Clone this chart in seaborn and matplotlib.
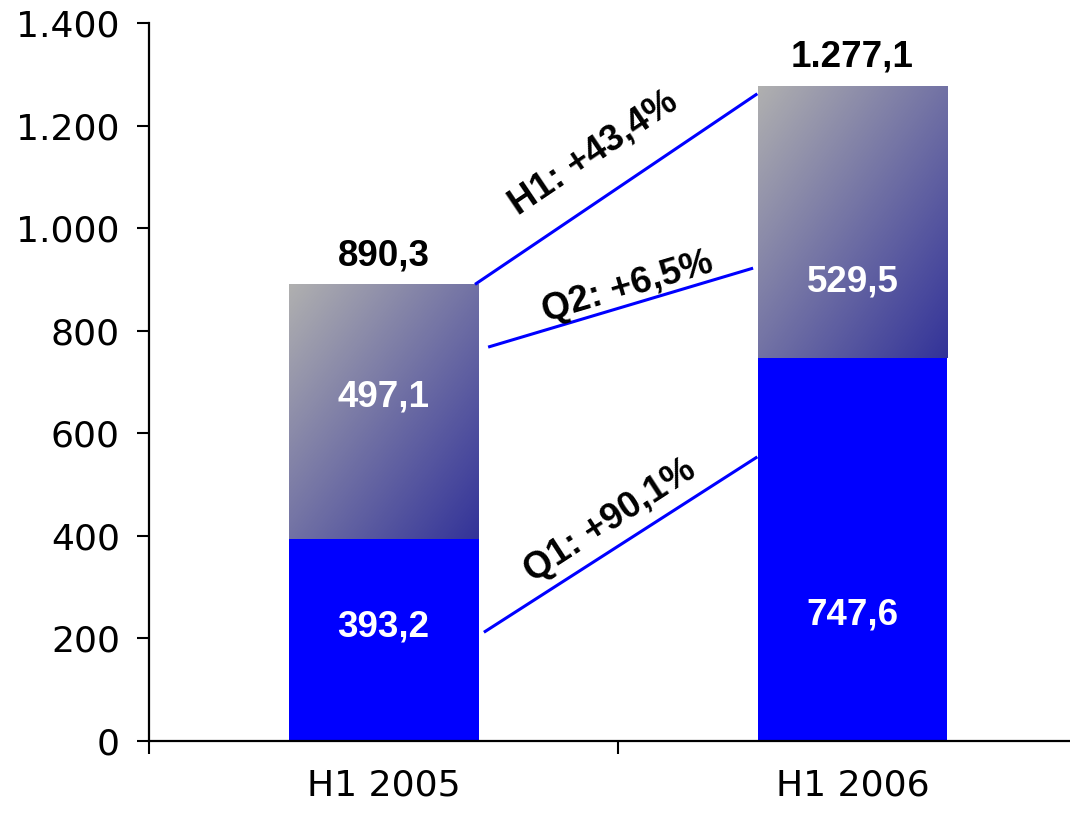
import numpy as np
import pandas as pd
import matplotlib
matplotlib.use("Agg")
import matplotlib.pyplot as plt
import seaborn as sns
from matplotlib.colors import LinearSegmentedColormap

periods = ["H1 2005", "H1 2006"]
q1_values = [393.2, 747.6]
q2_values = [497.1, 529.5]
totals = [890.3, 1277.1]

# where the segment labels sit (data units)
q1_label_y = [222, 246]
q2_label_y = [671, 895]

# growth connectors: label, line ends, text centre, rotation
growth_labels = ["H1: +43,4%", "Q2: +6,5%", "Q1: +90,1%"]
growth_x0 = [0.195, 0.223, 0.214]
growth_y0 = [890.3, 768, 212]
growth_x1 = [0.797, 0.788, 0.797]
growth_y1 = [1262, 922, 554]
growth_tx = [0.448, 0.520, 0.484]
growth_ty = [1147, 885, 429]
growth_rot = [34, 16.5, 33]

y_ticks = [0, 200, 400, 600, 800, 1000, 1200, 1400]

sns.set_style("white")
plt.rcParams["font.family"] = ["DejaVu Sans"]

df = pd.DataFrame({"period": periods, "q1": q1_values, "q2": q2_values, "total": totals})

fig = plt.figure(figsize=(10.7, 8.15), dpi=100)
ax = fig.add_axes([0.1393, 0.0908, 0.8766, 0.881])

BAR_W = 0.405
sns.barplot(data=df, x="period", y="total", color="white", width=BAR_W, ax=ax,
            saturation=1, linewidth=0)
total_patches = list(ax.patches)
sns.barplot(data=df, x="period", y="q1", color="#0000FF", width=BAR_W, ax=ax,
            saturation=1, linewidth=0)

# diagonal grey -> dark blue gradient for the Q2 segment
cmap = LinearSegmentedColormap.from_list("grad", ["#B0B0B0", "#333399"])
u, v = np.meshgrid(np.linspace(0, 1, 200), np.linspace(0, 1, 200))
grad = (u + v) / 2  # top-left light, bottom-right dark
for p, q1, tot in zip(total_patches, q1_values, totals):
    x0 = p.get_x()
    x1 = x0 + p.get_width()
    p.set_facecolor("none")
    p.set_edgecolor("none")
    ax.imshow(grad, cmap=cmap, extent=[x0, x1, q1, tot], origin="upper",
              aspect="auto", zorder=1, interpolation="bilinear")

ax.set_xlim(-0.5, 1.5)
ax.set_ylim(0, 1400)

bold = dict(family=["Liberation Sans", "DejaVu Sans"], fontweight="bold", fontsize=26.5)
for i in range(len(periods)):
    ax.text(i, q1_label_y[i], f"{q1_values[i]:.1f}".replace(".", ","), color="white",
            ha="center", va="center", zorder=5, **bold)
    ax.text(i, q2_label_y[i], f"{q2_values[i]:.1f}".replace(".", ","), color="white",
            ha="center", va="center", zorder=5, **bold)
    tot_txt = f"{totals[i]:,.1f}".replace(",", "X").replace(".", ",").replace("X", ".")
    ax.annotate(tot_txt, (i, totals[i]), xytext=(0, 8), textcoords="offset points",
                ha="center", va="bottom", color="black", zorder=5, **bold)

for lab, x0, y0, x1, y1, tx, ty, rot in zip(growth_labels, growth_x0, growth_y0, growth_x1,
                                             growth_y1, growth_tx, growth_ty, growth_rot):
    ax.plot([x0, x1], [y0, y1], color="#0000FF", lw=2.2, zorder=4, solid_capstyle="butt")
    ax.text(tx, ty, lab, rotation=rot, rotation_mode="anchor", ha="center", va="center",
            color="black", zorder=5, **bold)

ax.set_yticks(y_ticks)
ax.set_yticklabels([f"{t:,}".replace(",", ".") for t in y_ticks], fontsize=26, color="black")
ax.set_xticks([0, 1])
ax.set_xticklabels(periods, fontsize=26, color="black")
ax.set_xticks([-0.5, 0.5, 1.5], minor=True)
ax.tick_params(axis="x", which="major", bottom=True, length=0, pad=20)
ax.tick_params(axis="x", which="minor", bottom=True, length=9, width=1.5,
               direction="out", color="black")
ax.tick_params(axis="y", which="major", left=True, length=9, width=1.5,
               direction="out", color="black", pad=12)
ax.set_xlabel("")
ax.set_ylabel("")

sns.despine(ax=ax, top=True, right=True)
for s in ["left", "bottom"]:
    ax.spines[s].set_color("black")
    ax.spines[s].set_linewidth(1.6)
ax.spines["bottom"].set_zorder(6)

fig.savefig("out.png", dpi=100)
